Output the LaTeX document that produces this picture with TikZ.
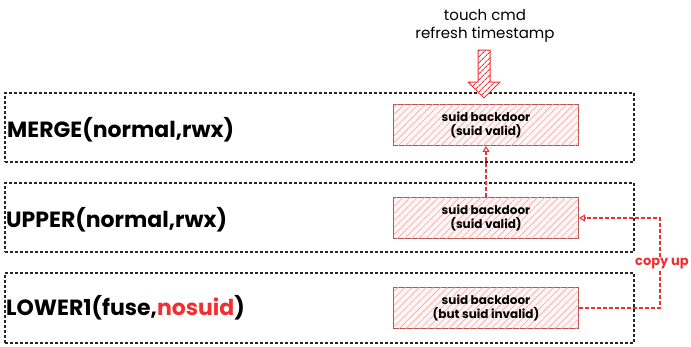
\documentclass[tikz,border=0pt]{standalone}
\usepackage{fontspec}
\setmainfont{Poppins}
\usetikzlibrary{arrows.meta,patterns.meta}
\definecolor{hatchred}{HTML}{F4A6A6}
\definecolor{boxred}{HTML}{B85450}
\definecolor{brightred}{HTML}{F03030}
\tikzset{
  layer/.style={draw=black!85, line width=1.1pt, dash pattern=on 3pt off 2pt},
  suidbox/.style={draw=boxred, line width=0.9pt, fill=red!4,
    postaction={pattern={Lines[angle=45,distance=5pt,line width=0.6pt]}, pattern color=hatchred},
    minimum width=185pt, minimum height=41pt, inner sep=0pt, align=center,
    font=\fontsize{12}{14}\selectfont\bfseries, text=black},
  layertext/.style={anchor=west, inner sep=0pt, font=\fontsize{22}{24}\selectfont\bfseries},
  redflow/.style={draw=brightred, line width=1.5pt, dash pattern=on 4pt off 2pt,
    -{Triangle[open,length=6pt,width=7pt,line width=1pt]}},
}
\begin{document}
\begin{tikzpicture}[x=1pt,y=-1pt]
\useasboundingbox (0,0) rectangle (691,346);
% layer boxes
\node[layer, minimum width=629pt, minimum height=69pt, inner sep=0pt] (merge) at (319.5,127.5) {};
\node[layer, minimum width=629pt, minimum height=69pt, inner sep=0pt] (upper) at (319.5,217.5) {};
\node[layer, minimum width=629pt, minimum height=70pt, inner sep=0pt] (lower) at (319.5,308) {};
% layer labels
\node[layertext] (mlab) at (7,130) {MERGE(normal,rwx)};
\node[layertext] (ulab) at (6,220) {UPPER(normal,rwx)};
\node[layertext] (llab) at (6,308) {LOWER1(fuse,\textcolor{brightred}{nosuid})};
% suid boxes
\node[suidbox] (ms) at (486,125) {suid backdoor\\(suid valid)};
\node[suidbox] (us) at (486,218) {suid backdoor\\(suid valid)};
\node[suidbox] (ls) at (486,308) {suid backdoor\\(but suid invalid)};
% top text
\node[align=center, inner sep=0pt, font=\fontsize{15}{18}\selectfont] (touch) at (485,26) {touch cmd\\refresh timestamp};
% big hatched arrow
\coordinate (tip) at (484,98);
\draw[draw=brightred, line width=1pt, line join=round, fill=white,
  postaction={pattern={Lines[angle=45,distance=4pt,line width=0.9pt]}, pattern color=brightred}]
  (478,50) -- (490,50) -- (490,82) -- (500,82) -- (tip) -- (468,82) -- (478,82) -- cycle;
% dashed arrows
\draw[redflow] (us.north -| ms.south) -- (ms.south);
\coordinate (cr) at (660,308);
\draw[redflow] (ls.east) -- (cr) -- (cr |- us.east) -- (us.east);
\node[text=brightred, font=\fontsize{13}{15}\selectfont\bfseries, fill=white, inner sep=1pt] (cu) at (662,264) {copy up};
\end{tikzpicture}
\end{document}
